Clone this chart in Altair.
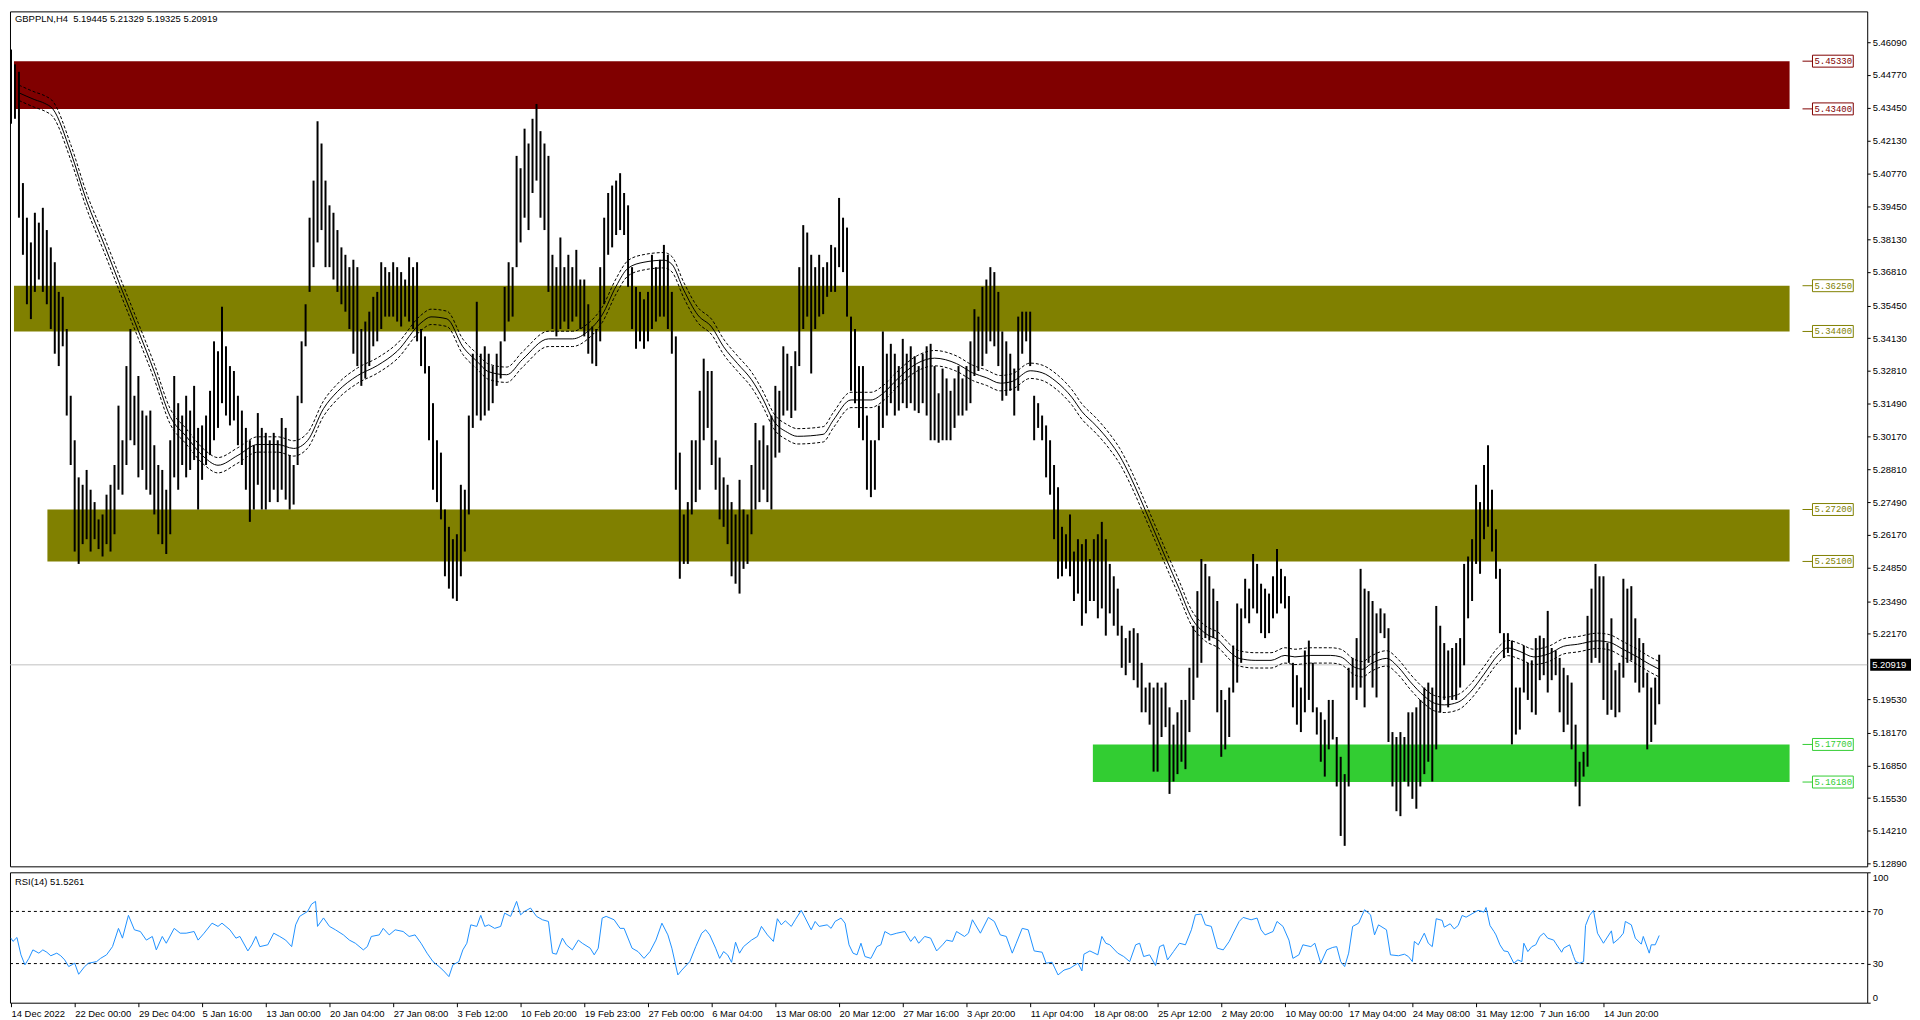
import json
import altair as alt
import pandas as pd

W = 1866
H_PRICE = 859
H_RSI = 131
FONT = "Liberation Sans"

symbol_title = "GBPPLN,H4\u00a0\u00a05.19445 5.21329 5.19325 5.20919"
rsi_title = "RSI(14) 51.5261"

date_labels = ["14 Dec 2022", "22 Dec 00:00", "29 Dec 04:00", "5 Jan 16:00", "13 Jan 00:00",
               "20 Jan 04:00", "27 Jan 08:00", "3 Feb 12:00", "10 Feb 20:00", "19 Feb 23:00",
               "27 Feb 00:00", "6 Mar 04:00", "13 Mar 08:00", "20 Mar 12:00", "27 Mar 16:00",
               "3 Apr 20:00", "11 Apr 04:00", "18 Apr 08:00", "25 Apr 12:00", "2 May 20:00",
               "10 May 00:00", "17 May 04:00", "24 May 08:00", "31 May 12:00", "7 Jun 16:00",
               "14 Jun 20:00"]
BARS_PER_LABEL = 32
date_ticks = [i * BARS_PER_LABEL for i in range(len(date_labels))]

price_ticks = [5.46090, 5.44770, 5.43450, 5.42130, 5.40770, 5.39450, 5.38130, 5.36810,
               5.35450, 5.34130, 5.32810, 5.31490, 5.30170, 5.28810, 5.27490, 5.26170,
               5.24850, 5.23490, 5.22170, 5.19530, 5.18170, 5.16850, 5.15530, 5.14210, 5.12890]
current_price = 5.20919

# price bars (each entry = 2 H4 bars), highs and lows
high = (
    [5.458,5.452,5.449,5.404,5.390,5.380,5.392,5.388,5.394,5.385,5.378,5.372,5.360,5.358,5.345,5.318]
  + [5.300,5.285,5.282,5.288,5.280,5.275,5.268,5.270,5.278,5.282,5.290,5.314,5.300,5.330,5.345,5.318]
  + [5.326,5.312,5.310,5.312,5.298,5.290,5.288,5.280,5.300,5.326,5.315,5.310,5.318,5.312,5.322,5.305]
  + [5.306,5.310,5.320,5.340,5.336,5.354,5.338,5.330,5.328,5.318,5.312,5.305,5.300,5.298,5.311,5.305]
  + [5.303,5.300,5.303,5.300,5.309,5.305,5.294,5.290,5.318,5.340,5.355,5.390,5.405,5.429,5.420,5.405]
  + [5.395,5.392,5.385,5.378,5.375,5.370,5.373,5.370,5.345,5.348,5.352,5.358,5.360,5.372,5.370,5.368]
  + [5.372,5.370,5.368,5.365,5.374,5.370,5.372,5.345,5.342,5.330,5.315,5.300,5.295,5.272,5.265,5.260]
  + [5.262,5.282,5.280,5.310,5.335,5.356,5.335,5.338,5.335,5.330,5.335,5.340,5.362,5.372,5.370,5.415]
  + [5.410,5.426,5.420,5.430,5.436,5.425,5.420,5.415,5.375,5.370,5.382,5.370,5.375,5.370,5.377,5.365]
  + [5.365,5.355,5.346,5.345,5.370,5.390,5.400,5.403,5.405,5.408,5.400,5.395,5.370,5.362,5.360,5.357]
  + [5.360,5.375,5.370,5.373,5.379,5.375,5.360,5.342,5.295,5.270,5.275,5.300,5.300,5.320,5.333,5.328]
  + [5.328,5.300,5.293,5.285,5.282,5.275,5.270,5.284,5.272,5.270,5.290,5.307,5.300,5.306,5.298,5.310]
  + [5.322,5.320,5.338,5.335,5.330,5.336,5.370,5.387,5.384,5.375,5.370,5.375,5.370,5.372,5.379,5.378]
  + [5.398,5.390,5.386,5.350,5.345,5.330,5.330,5.310,5.300,5.300,5.314,5.344,5.335,5.339,5.335,5.330]
  + [5.341,5.335,5.338,5.334,5.330,5.335,5.338,5.339,5.330,5.319,5.329,5.325,5.320,5.325,5.330,5.325]
  + [5.330,5.340,5.353,5.350,5.362,5.365,5.370,5.368,5.360,5.344,5.340,5.335,5.329,5.350,5.352,5.352]
  + [5.352,5.318,5.315,5.310,5.306,5.300,5.290,5.281,5.265,5.262,5.270,5.255,5.260,5.258,5.260,5.252]
  + [5.260,5.262,5.267,5.260,5.250,5.245,5.240,5.225,5.220,5.223,5.224,5.222,5.210,5.200,5.202,5.200]
  + [5.202,5.200,5.202,5.192,5.185,5.190,5.195,5.195,5.208,5.225,5.239,5.252,5.250,5.245,5.240,5.235]
  + [5.199,5.195,5.200,5.217,5.234,5.232,5.244,5.240,5.254,5.250,5.242,5.240,5.238,5.245,5.256,5.248]
  + [5.245,5.237,5.210,5.205,5.200,5.215,5.219,5.210,5.192,5.190,5.187,5.195,5.195,5.180,5.172,5.165]
  + [5.208,5.212,5.220,5.248,5.240,5.239,5.235,5.230,5.232,5.230,5.224,5.182,5.180,5.182,5.180,5.190]
  + [5.190,5.192,5.195,5.200,5.202,5.200,5.233,5.225,5.218,5.215,5.216,5.218,5.220,5.250,5.253,5.260]
  + [5.282,5.275,5.290,5.298,5.280,5.264,5.248,5.222,5.222,5.219,5.200,5.200,5.217,5.210,5.211,5.220]
  + [5.221,5.220,5.231,5.216,5.215,5.212,5.208,5.205,5.202,5.185,5.170,5.174,5.229,5.240,5.250,5.245]
  + [5.245,5.218,5.228,5.207,5.210,5.244,5.240,5.241,5.228,5.220,5.218,5.206,5.200,5.204,5.21329]
)
low = (
    [5.428,5.430,5.390,5.375,5.355,5.349,5.360,5.365,5.360,5.355,5.345,5.335,5.330,5.338,5.310,5.290]
  + [5.255,5.250,5.258,5.260,5.255,5.260,5.256,5.253,5.258,5.255,5.262,5.280,5.278,5.290,5.300,5.298]
  + [5.285,5.288,5.280,5.278,5.270,5.262,5.258,5.254,5.262,5.285,5.280,5.290,5.285,5.288,5.292,5.272]
  + [5.284,5.290,5.294,5.300,5.305,5.315,5.310,5.306,5.308,5.298,5.290,5.280,5.267,5.272,5.282,5.272]
  + [5.272,5.275,5.280,5.275,5.280,5.276,5.272,5.274,5.290,5.315,5.338,5.360,5.370,5.380,5.385,5.370]
  + [5.370,5.365,5.360,5.355,5.352,5.345,5.335,5.330,5.322,5.325,5.330,5.338,5.340,5.345,5.350,5.350]
  + [5.350,5.348,5.346,5.350,5.348,5.345,5.340,5.330,5.327,5.300,5.280,5.275,5.268,5.245,5.240,5.236]
  + [5.235,5.245,5.255,5.270,5.305,5.310,5.308,5.310,5.312,5.315,5.322,5.325,5.340,5.348,5.350,5.370]
  + [5.380,5.390,5.385,5.400,5.405,5.390,5.385,5.360,5.345,5.342,5.345,5.348,5.345,5.348,5.350,5.345]
  + [5.342,5.335,5.331,5.330,5.340,5.355,5.375,5.378,5.383,5.385,5.383,5.362,5.345,5.337,5.340,5.337]
  + [5.340,5.345,5.348,5.350,5.350,5.345,5.335,5.280,5.244,5.250,5.250,5.270,5.275,5.280,5.300,5.305]
  + [5.290,5.280,5.268,5.265,5.258,5.245,5.242,5.238,5.248,5.250,5.262,5.272,5.275,5.280,5.275,5.272]
  + [5.293,5.295,5.310,5.312,5.309,5.312,5.330,5.345,5.350,5.327,5.345,5.350,5.351,5.358,5.360,5.360]
  + [5.370,5.368,5.350,5.320,5.315,5.305,5.300,5.280,5.277,5.280,5.300,5.305,5.310,5.315,5.310,5.312]
  + [5.315,5.313,5.315,5.312,5.311,5.315,5.310,5.300,5.300,5.299,5.300,5.300,5.300,5.305,5.310,5.310]
  + [5.312,5.315,5.326,5.328,5.330,5.335,5.340,5.338,5.330,5.316,5.318,5.320,5.310,5.320,5.335,5.340]
  + [5.330,5.300,5.305,5.300,5.285,5.278,5.260,5.244,5.245,5.248,5.245,5.235,5.238,5.225,5.230,5.235]
  + [5.235,5.228,5.232,5.221,5.230,5.225,5.221,5.208,5.205,5.210,5.203,5.200,5.190,5.190,5.185,5.166]
  + [5.166,5.180,5.184,5.157,5.162,5.165,5.170,5.167,5.182,5.195,5.204,5.210,5.220,5.219,5.220,5.190]
  + [5.172,5.175,5.180,5.198,5.202,5.210,5.228,5.226,5.232,5.230,5.222,5.220,5.222,5.228,5.230,5.234]
  + [5.232,5.210,5.192,5.185,5.182,5.190,5.195,5.190,5.181,5.170,5.164,5.175,5.179,5.160,5.140,5.136]
  + [5.160,5.200,5.195,5.200,5.192,5.210,5.200,5.196,5.222,5.220,5.178,5.160,5.150,5.148,5.162,5.160]
  + [5.155,5.151,5.160,5.165,5.170,5.162,5.175,5.190,5.195,5.192,5.195,5.195,5.200,5.209,5.228,5.235]
  + [5.250,5.246,5.260,5.265,5.255,5.244,5.222,5.212,5.214,5.177,5.181,5.183,5.198,5.195,5.190,5.189]
  + [5.203,5.205,5.198,5.203,5.205,5.190,5.182,5.185,5.175,5.160,5.152,5.164,5.168,5.210,5.212,5.210]
  + [5.195,5.189,5.191,5.188,5.190,5.204,5.210,5.211,5.202,5.198,5.200,5.175,5.178,5.185,5.19325]
)
bar_t = [2 * k for k in range(len(high))]

# moving average (bar index, value) and envelope offset
ma_t = [4,12,17,21,30,38,47,55,64,72,80,88,97,104,114,124,134,142,149,157,
        164,174,184,194,206,211,219,227,234,240,249,257,270,282,290,297,304,310,318,328,
        332,338,345,352,358,365,372,378,383,390,395,408,413,422,432,438,445,455,464,475,
        483,490,497,503,512,518,525,533,538,545,552,557,562,567,573,580,587,593,600,607,
        612,617,625,633,640,645,653,663,668,675,679,683,691,697,703,710,715,720,727,733,
        740,747,752,758,765,773,780,787,797,803,810,817,823,828]
ma_v = [5.4405,5.4377,5.4362,5.4340,5.4165,5.3968,5.3788,5.3623,5.3442,5.3277,
        5.3096,5.3016,5.2932,5.2899,5.2939,5.2983,5.2983,5.2967,5.2999,5.3128,
        5.3197,5.3261,5.3302,5.3360,5.3475,5.3499,5.3491,5.3378,5.3320,5.3277,
        5.3265,5.3327,5.3410,5.3410,5.3442,5.3507,5.3623,5.3696,5.3720,5.3728,
        5.3712,5.3607,5.3507,5.3458,5.3378,5.3310,5.3245,5.3163,5.3080,5.3032,
        5.3016,5.3024,5.3080,5.3163,5.3163,5.3189,5.3245,5.3310,5.3332,5.3310,
        5.3273,5.3253,5.3231,5.3238,5.3281,5.3273,5.3238,5.3173,5.3116,5.3060,
        5.2994,5.2936,5.2859,5.2770,5.2658,5.2526,5.2397,5.2283,5.2219,5.2189,
        5.2146,5.2118,5.2110,5.2110,5.2130,5.2124,5.2130,5.2130,5.2124,5.2082,
        5.2074,5.2095,5.2118,5.2082,5.2023,5.1965,5.1937,5.1930,5.1941,5.1981,
        5.2054,5.2131,5.2160,5.2146,5.2124,5.2138,5.2167,5.2175,5.2189,5.2183,
        5.2154,5.2124,5.2095,5.2074]
ENV = 0.0031

# RSI(14) (bar index, value)
rsi_points = [
    (0,49.5),(1,47),(3,50),(5,36.7),(7,29),(9,34),(11,40.5),(14,38),(16,40.5),(18,38.7),
    (20,36),(23,38),(25,36),(27,32.8),(29,27.7),(32,30.3),(34,21.8),(37,27.7),(39,30.3),(43,31.5),
    (45,34),(48,36.7),(51,43),(54,57),(56,49.5),(59,67),(62,55.9),(65,54.6),(68,48),(71,50.8),
    (73,40.5),(76,50.8),(78,45.6),(82,57),(85,53.3),(88,53.3),(92,54.6),(94,48),(97,53.3),(101,61),
    (104,58.5),(106,61),(110,55.9),(113,49.5),(115,50.8),(119,39.7),(121,44.4),(123,50.8),(125,43),(129,44.4),
    (132,53.3),(135,50.8),(138,48),(141,43),(143,59.7),(145,66.2),(149,70),(151,75.6),(153,77.7),(154,58.5),
    (157,65),(160,58.5),(163,55.9),(167,52),(170,48),(173,45.6),(177,40.5),(179,43),(181,50.8),(185,52),
    (187,57),(190,52),(193,55.9),(197,54.6),(200,50.8),(203,52),(206,45.6),(209,38),(212,31.5),(215,27.7),
    (217,25),(220,20),(222,29),(225,31.5),(227,40.5),(229,45.6),(231,59.7),(234,58.5),(236,67),(238,58.5),
    (240,59.7),(243,57),(246,58.5),(248,68.7),(251,66.2),(254,77.7),(256,67.4),(258,70),(261,72.6),(264,66.2),
    (267,63.6),(270,62.3),(272,38),(274,37.2),(277,49.5),(279,44.4),(282,40.5),(285,48),(287,45.6),(291,41.8),
    (293,36.7),(295,41.8),(297,64.9),(299,66.2),(303,63.6),(306,57),(308,57),(312,41.8),(315,39.2),(318,34),
    (321,39.2),(324,48),(327,61),(330,52),(332,41.8),(335,21.3),(337,25),(341,31.5),(344,43),(347,53.3),
    (349,55.9),(351,52),(354,41.8),(356,34),(358,39.2),(360,36.7),(362,31),(364,46.4),(366,38),(368,43),
    (372,48),(375,50.8),(377,58.5),(380,52),(383,47),(385,64.4),(387,59.7),(389,62.8),(392,58.5),(394,63.6),
    (397,70.8),(399,65),(402,55.9),(404,62.3),(406,58.5),(410,59.7),(412,57),(414,62.3),(417,64.9),(419,61),
    (421,44.4),(423,38),(425,36.7),(427,45.6),(429,35.4),(432,34),(435,43),(437,44.4),(439,54.6),(442,52),
    (445,53.3),(449,54.6),(452,47),(454,50.8),(456,45.6),(459,50.8),(462,49.5),(465,39.7),(468,44.4),(470,48),
    (473,47),(475,54.6),(479,50.8),(481,53.3),(483,63.6),(487,53.3),(491,65.4),(494,62.3),(497,52),(500,50.8),
    (503,38),(505,45.6),(508,57),(511,55.9),(514,39.7),(518,38.7),(520,30.3),(523,31),(526,21.3),(529,25),
    (532,26.4),(536,30.3),(538,24.4),(539,37.2),(542,39.7),(546,36.7),(548,50.8),(550,45.6),(552,44.4),(556,38),
    (559,35.4),(562,31.5),(565,44.4),(567,45.6),(569,35.4),(572,36.7),(575,28.5),(577,43),(579,44.4),(581,32.8),
    (584,39.2),(587,45.6),(590,44.4),(593,55.9),(595,67.4),(598,68),(600,59.7),(603,58.5),(606,41.8),(609,40.5),
    (612,47),(614,53.3),(617,62.3),(619,65.4),(623,63.6),(626,64.9),(628,55.9),(630,52),(634,54.6),(636,62.3),
    (639,58.5),(642,48),(644,34),(647,36.7),(649,44.4),(653,43),(655,45.6),(658,30.3),(661,40.5),(664,42.4),
    (666,43),(668,31.5),(670,27.7),(672,38),(674,58.5),(677,61),(680,71.3),(683,67.4),(685,52),(687,59.7),
    (691,55.9),(693,36.7),(697,36),(700,37.2),(702,35.4),(704,31.5),(705,47),(707,44.4),(710,53.3),(712,45.6),
    (714,43),(716,64.4),(719,63.1),(720,57.9),(723,60.5),(725,56.6),(727,59.2),(729,66.9),(731,65.6),(734,68.2),
    (737,70.8),(740,69.5),(741,73),(743,59.2),(745,54.6),(746,52),(748,44.4),(750,39.7),(752,39.2),(755,30.3),
    (757,32.8),(759,31.5),(760,45.6),(762,39.2),(764,43),(766,44.4),(768,50.8),(770,53.3),(772,49.5),(775,48),
    (776,45.6),(779,38.7),(780,41.8),(783,44.4),(785,35.4),(786,31.5),(788,30.3),(790,31.5),(791,59.2),(793,66.9),
    (795,70.8),(797,53.3),(800,45.6),(801,48),(804,55.1),(805,45.6),(808,49.5),(810,53.3),(811,62.3),(814,59.7),
    (816,49.5),(819,44.9),(820,50.8),(823,38),(824,44.4),(826,44.4),(828,51.5261),
]
rsi_levels = [70, 30]

# support / resistance zones
zone_hi = [5.4533, 5.3625, 5.2720, 5.1770]
zone_lo = [5.4340, 5.3440, 5.2510, 5.1618]
zone_start = [1.5, 1.5, 18.3, 543.5]
zone_end = [893.5, 893.5, 893.5, 893.5]
zone_color = ["#800000", "#808000", "#808000", "#32CD32"]

# ---------------------------------------------------------------------------
bars_df = pd.DataFrame({"t": bar_t, "high": high, "low": low})
ma_df = pd.DataFrame({"t": ma_t, "ma": ma_v})
rsi_df = pd.DataFrame({"t": [p[0] for p in rsi_points], "rsi": [p[1] for p in rsi_points]})
zones_df = pd.DataFrame({"t0": zone_start, "t1": zone_end, "hi": zone_hi, "lo": zone_lo, "color": zone_color})
lvl_rows = []
for h, l, c in zip(zone_hi, zone_lo, zone_color):
    lvl_rows.append({"price": h, "color": c, "label": f"{h:.5f}"})
    lvl_rows.append({"price": l, "color": c, "label": f"{l:.5f}"})
levels_df = pd.DataFrame(lvl_rows)
cur_df = pd.DataFrame({"price": [current_price], "label": [f"{current_price:.5f}"]})
lv_df = pd.DataFrame({"level": rsi_levels})

xs = alt.Scale(domain=[-0.5, 932.5], nice=False, zero=False)
ys = alt.Scale(domain=[5.12771, 5.47343], nice=False, zero=False)
y_axis = alt.Axis(orient="right", values=price_ticks, format=".5f", title=None,
                  tickSize=3, labelPadding=2, domain=False, grid=False)

def Y(field):
    return alt.Y(field, scale=ys, axis=y_axis)

zones = alt.Chart(zones_df).mark_rect().encode(
    x=alt.X("t0:Q", scale=xs, axis=None), x2="t1:Q",
    y=Y("hi:Q"), y2="lo:Q",
    color=alt.Color("color:N", scale=None))

cur_line = alt.Chart(cur_df).mark_rule(color="#c0c0c0", strokeWidth=1).encode(
    x=alt.value(0), x2=alt.value(W), y=Y("price:Q"))

bars = alt.Chart(bars_df).mark_rule(color="black", strokeWidth=2).encode(
    x=alt.X("t:Q", scale=xs, axis=None), y=Y("low:Q"), y2="high:Q")

ma_base = alt.Chart(ma_df).transform_calculate(
    upper=f"datum.ma + {ENV}", lower=f"datum.ma - {ENV}")
ma_line = ma_base.mark_line(color="black", strokeWidth=1, interpolate="monotone").encode(
    x=alt.X("t:Q", scale=xs, axis=None), y=Y("ma:Q"))
ma_up = ma_base.mark_line(color="black", strokeWidth=1, strokeDash=[3, 2], interpolate="monotone").encode(
    x=alt.X("t:Q", scale=xs, axis=None), y=Y("upper:Q"))
ma_lo = ma_base.mark_line(color="black", strokeWidth=1, strokeDash=[3, 2], interpolate="monotone").encode(
    x=alt.X("t:Q", scale=xs, axis=None), y=Y("lower:Q"))

lvl_tick = alt.Chart(levels_df).mark_rule(strokeWidth=1).encode(
    x=alt.value(W - 65), x2=alt.value(W - 55), y=Y("price:Q"),
    color=alt.Color("color:N", scale=None))
lvl_box = alt.Chart(levels_df).mark_rect(fill="white", strokeWidth=1, yOffset=-6, y2Offset=6).encode(
    x=alt.value(W - 55), x2=alt.value(W - 14), y=Y("price:Q"), y2="price:Q",
    stroke=alt.Stroke("color:N", scale=None))
lvl_text = alt.Chart(levels_df).mark_text(align="left", baseline="middle", font="Liberation Mono",
                                         fontSize=9).encode(
    x=alt.value(W - 53), y=Y("price:Q"), text="label:N",
    color=alt.Color("color:N", scale=None))

cur_box = alt.Chart(cur_df).mark_rect(fill="black", yOffset=-6, y2Offset=6).encode(
    x=alt.value(W + 3), x2=alt.value(W + 44), y=Y("price:Q"), y2="price:Q")
cur_text = alt.Chart(cur_df).mark_text(align="left", baseline="middle", font=FONT,
                                      fontSize=9.5, color="white").encode(
    x=alt.value(W + 5), y=Y("price:Q"), text="label:N")

title_txt = alt.Chart(pd.DataFrame({"s": [symbol_title]})).mark_text(
    align="left", baseline="middle", font=FONT, fontSize=9.5, color="black").encode(
    x=alt.value(5), y=alt.value(8), text="s:N")

price = alt.layer(zones, cur_line, bars, ma_up, ma_lo, ma_line, lvl_tick, lvl_box, lvl_text,
                  cur_box, cur_text, title_txt).properties(width=W, height=H_PRICE)

# RSI panel
label_expr = json.dumps(date_labels) + "[round(datum.value / %d)]" % BARS_PER_LABEL
x_rsi_axis = alt.Axis(values=date_ticks, labelExpr=label_expr, labelAlign="left", labelPadding=2,
                      tickSize=4, title=None, domain=False, grid=False, labelOverlap=False,
                      labelFlush=False)
rs = alt.Scale(domain=[0, 100], nice=False, zero=False)
r_axis = alt.Axis(orient="right", values=[0, 30, 70, 100], title=None, tickSize=3, labelPadding=2,
                  labelFlush=True, domain=False, grid=False)

rsi_lv = alt.Chart(lv_df).mark_rule(color="black", strokeWidth=1, strokeDash=[3, 3]).encode(
    x=alt.value(0), x2=alt.value(W), y=alt.Y("level:Q", scale=rs, axis=r_axis))
rsi_line = alt.Chart(rsi_df).mark_line(color="#1E90FF", strokeWidth=1).encode(
    x=alt.X("t:Q", scale=xs, axis=x_rsi_axis), y=alt.Y("rsi:Q", scale=rs, axis=r_axis))
rsi_txt = alt.Chart(pd.DataFrame({"s": [rsi_title]})).mark_text(
    align="left", baseline="middle", font=FONT, fontSize=9.5, color="black").encode(
    x=alt.value(5), y=alt.value(10), text="s:N")

rsi = alt.layer(rsi_lv, rsi_line, rsi_txt).properties(width=W, height=H_RSI)

chart = alt.vconcat(price, rsi, spacing=2).properties(
    padding=0, background="white"
).configure_view(
    stroke="black", strokeWidth=1
).configure_axis(
    labelFont=FONT, labelFontSize=9.5, labelColor="black", tickColor="black"
)

chart.save("out.html", embed_options={"renderer": "svg", "actions": False})
